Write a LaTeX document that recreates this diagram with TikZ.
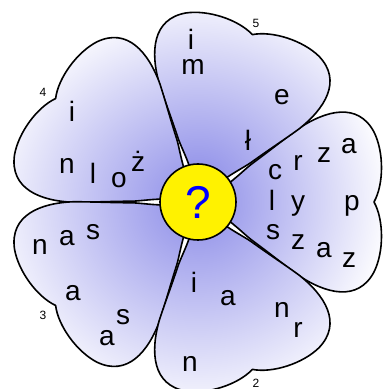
\documentclass[tikz,border=0pt]{standalone}
\usepackage{fontspec}
\setmainfont{Liberation Sans}
\usepackage{tikz}
\definecolor{petalblue}{RGB}{140,140,232}
\definecolor{qblue}{RGB}{0,0,255}

\begin{document}
\begin{tikzpicture}[x=1pt,y=1pt,
    petalshape/.style={insert path={(0,0) .. controls (30,14) and (44,31) .. (55,39)
        .. controls (70,50) and (85,62) .. (100,73)
        .. controls (128,92) and (160,100) .. (176,70)
        .. controls (186,50) and (186,18) .. (176,0)
        .. controls (186,-18) and (186,-50) .. (176,-70)
        .. controls (160,-100) and (128,-92) .. (100,-73)
        .. controls (85,-62) and (70,-50) .. (55,-39)
        .. controls (44,-31) and (30,-14) .. (0,0) -- cycle}},
    outline/.style={draw=black,line width=1.6pt,line join=round},
    hub/.style={circle,draw=black,line width=1.6pt,fill=yellow,
                minimum size=76pt,inner sep=0pt,text=qblue,
                font=\fontsize{46}{46}\selectfont},
    letter/.style={inner sep=0pt,font=\fontsize{28}{28}\selectfont},
    num/.style={inner sep=0pt,font=\fontsize{12}{12}\selectfont}]
  \useasboundingbox (0,0) rectangle (385,389);
  \coordinate (cen) at (198,187);
  % petals, shaded from the middle outwards
  \foreach \ang in {0,72,144,216,288}{
    \begin{scope}[shift={(cen)},rotate=\ang]
      \begin{scope}
        \clip[petalshape];
        \shade[inner color=petalblue,outer color=white] (0,0) circle (195);
      \end{scope}
      \path[outline,petalshape];
    \end{scope}
  }
  \node[hub] (hub) at (cen) {?};
  % letters on the petals
  \foreach \ch/\x/\y [count=\k] in {
      i/191/39, m/193/67, e/282/97, ł/248/140,
      i/72/111, n/67/166, l/93/173, o/119/180, ż/138/161,
      c/275/172, r/298/163, z/324/155, a/349/146,
      l/272/200, y/298/206, p/352/206,
      s/273/232, z/298/242, a/324/250, z/349/260,
      i/194/282, a/228/298, n/282/310, r/298/330, n/190/364,
      n/40/247, a/67/238, s/93/232, a/73/293, s/123/317, a/107/338}
    \node[letter] (ch\k) at (\x,389-\y) {\ch};
  % petal numbers
  \node[num] (n2) at (256,389-383) {2};
  \node[num] (n3) at (43,389-315) {3};
  \node[num] (n4) at (43,389-92) {4};
  \node[num] (n5) at (256,389-23) {5};
\end{tikzpicture}
\end{document}
